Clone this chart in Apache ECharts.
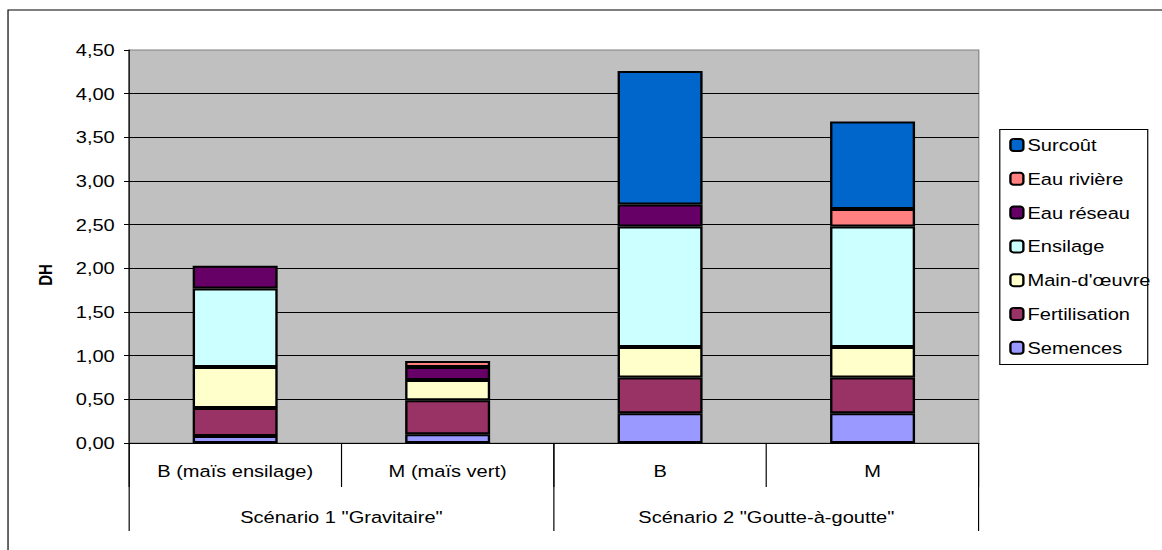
<!DOCTYPE html>
<html>
<head>
<meta charset="utf-8">
<script src="https://cdn.jsdelivr.net/npm/echarts@6/dist/echarts.min.js"></script>
<style>
  html, body { margin: 0; padding: 0; background: #ffffff; overflow: hidden; }
  #wrap { width: 1162px; height: 550px; overflow: hidden; }
  /* the chart is laid out on a narrower canvas and widened, giving its broad lettering */
  #chart { width: 985px; height: 550px; transform: scaleX(1.1797); transform-origin: 0 0; }
</style>
</head>
<body>
<div id="wrap"><div id="chart"></div></div>
<script>
// Crop categories (first level) and irrigation scenarios (second level)
const crops = ['B (maïs ensilage)', 'M (maïs vert)', 'B', 'M'];
const scenarios = ['Scénario 1 "Gravitaire"', 'Scénario 2 "Goutte-à-goutte"'];

// Cost components in DH, bottom of the stack first (null = not applicable)
const semences      = [0.08, 0.10, 0.34, 0.34];
const fertilisation = [0.32, 0.39, 0.41, 0.41];
const mainOeuvre    = [0.47, 0.23, 0.35, 0.35];
const ensilage      = [0.90, null, 1.38, 1.38];
const eauReseau     = [0.26, 0.15, 0.25, null];
const eauRiviere    = [null, 0.07, null, 0.20];
const surcout       = [null, null, 1.53, 1.00];

const seriesNames  = ['Semences', 'Fertilisation', "Main-d'œuvre", 'Ensilage', 'Eau réseau', 'Eau rivière', 'Surcoût'];
const seriesValues = [semences, fertilisation, mainOeuvre, ensilage, eauReseau, eauRiviere, surcout];
const seriesColors = ['#9999FF', '#993366', '#FFFFCC', '#CCFFFF', '#660066', '#FF8080', '#0066CC'];

// y axis range, tick step and title
const yMin = 0, yMax = 4.5, yStep = 0.5;
const yTitle = 'DH';

const FONT = 'Liberation Sans, Arial, sans-serif';
const chart = echarts.init(document.getElementById('chart'), null, { renderer: 'svg' });

chart.setOption({
  animation: false,
  textStyle: { fontFamily: FONT, color: '#000' },
  grid: {
    left: 109.3, right: 155.3, top: 50, bottom: 107,
    show: true, backgroundColor: '#C0C0C0', borderColor: '#808080', borderWidth: 1
  },
  legend: {
    orient: 'vertical',
    left: 855.5, top: 136,
    padding: 0,
    itemWidth: 11, itemHeight: 12, itemGap: 15.8,
    textStyle: { fontFamily: FONT, fontSize: 17, color: '#000', lineHeight: 18, padding: [0, 0, 0, -1.5] },
    data: seriesNames.slice().reverse()
  },
  xAxis: [
    {
      type: 'category', data: crops, position: 'bottom',
      axisLine: { show: true, lineStyle: { color: '#000', width: 1 } },
      axisTick: { show: true, length: 44, lineStyle: { color: '#000', width: 1 } },
      axisLabel: { fontFamily: FONT, fontSize: 17, color: '#000', margin: 20 }
    },
    {
      type: 'category', data: scenarios, position: 'bottom',
      axisLine: { show: false },
      axisTick: { show: true, length: 88, lineStyle: { color: '#000', width: 1 } },
      axisLabel: { fontFamily: FONT, fontSize: 17, color: '#000', margin: 66 }
    }
  ],
  yAxis: {
    type: 'value', min: yMin, max: yMax, interval: yStep,
    axisLine: { show: true, lineStyle: { color: '#000', width: 1 } },
    axisTick: { show: true, length: 4.2, lineStyle: { color: '#000', width: 1 } },
    axisLabel: {
      fontFamily: FONT, fontSize: 17, color: '#000', margin: 12,
      formatter: v => v.toFixed(2).replace('.', ',')
    },
    splitLine: { show: true, showMaxLine: false, lineStyle: { color: '#000', width: 1 } }
  },
  series: seriesNames.map((name, i) => ({
    name: name,
    type: 'bar',
    stack: 'cout',
    xAxisIndex: 0,
    barWidth: '40%',
    data: seriesValues[i],
    itemStyle: { color: seriesColors[i], borderColor: '#000', borderWidth: 2 }
  })),
  graphic: [
    // outer chart frame
    { type: 'rect', shape: { x: 6.8, y: 10, width: 2000, height: 2000 },
      style: { fill: 'none', stroke: '#000', lineWidth: 1 }, silent: true },
    // legend box
    { type: 'rect', shape: { x: 847.5, y: 129.5, width: 125.4, height: 235 },
      style: { fill: 'none', stroke: '#000', lineWidth: 1 }, silent: true, z: 10 },
    // value axis title, set a little below the plot's middle
    { type: 'text', x: 38.2, y: 275, rotation: Math.PI / 2,
      style: { text: yTitle, font: 'bold 15px ' + FONT, fill: '#000', align: 'center', verticalAlign: 'middle' },
      silent: true }
  ]
});
</script>
</body>
</html>
